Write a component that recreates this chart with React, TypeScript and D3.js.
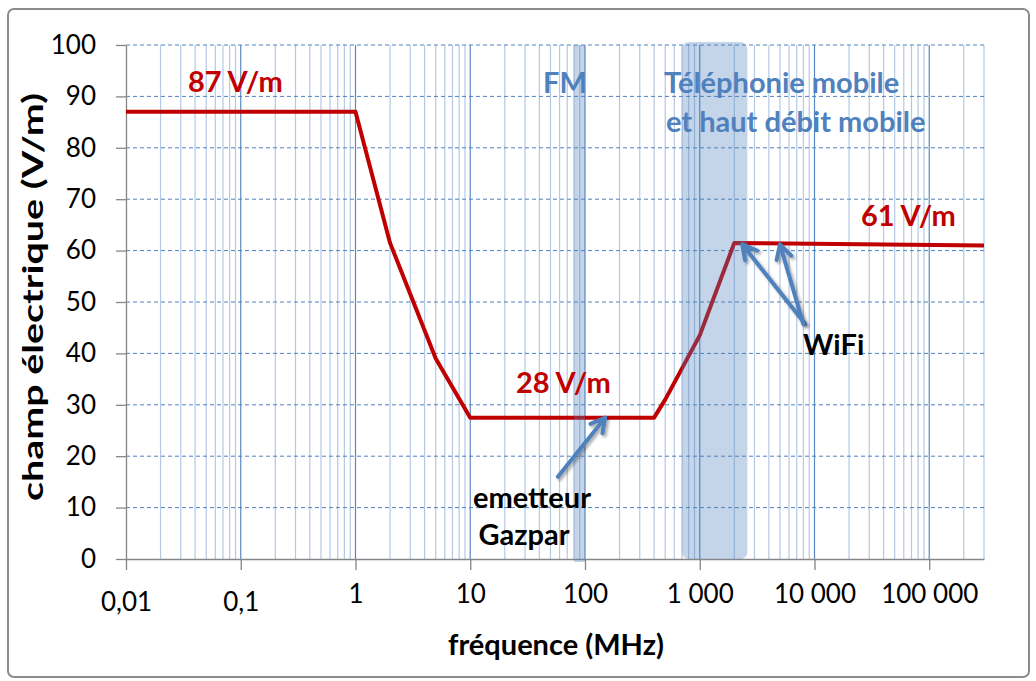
import React, { useRef, useEffect } from "react";
import * as d3 from "d3";

// ICNIRP-style limit curve (MHz -> V/m)
const frequencies = [0.01, 1, 2, 5, 10, 400, 500, 1000, 2000, 300000];
const fieldValues = [87, 87, 61.5, 39, 27.5, 27.5, 31, 43.5, 61.5, 61];

const xTickValues = [0.01, 0.1, 1, 10, 100, 1000, 10000, 100000];
const xTickLabels = ["0,01", "0,1", "1", "10", "100", "1 000", "10 000", "100 000"];
const yTickValues = [0, 10, 20, 30, 40, 50, 60, 70, 80, 90, 100];

// shaded bands (MHz)
const fmBand = [80, 100];
const mobileBand = [700, 2600];

// arrows: [tail freq, tail field, tip freq, tip field]
const gazparArrow = [58, 16, 150, 27.5];
const wifiArrows = [
  [8300, 45.7, 2350, 61.2],
  [8000, 45.7, 5000, 61.2],
];

const FONT = 'Lato, "Open Sans", sans-serif';
const RED = "#c00000";
const BLUE = "#4f81bd";

const App: React.FC = () => {
  const svgRef = useRef<SVGSVGElement>(null);
  const width = 1036;
  const height = 681;

  useEffect(() => {
    if (!svgRef.current) return;
    const svg = d3.select(svgRef.current);
    svg.selectAll("*").remove();

    const margin = { top: 45, right: 52, bottom: 122, left: 126 };

    const x = d3
      .scaleLog()
      .domain([0.01, 300000])
      .range([margin.left, width - margin.right]);
    const y = d3
      .scaleLinear()
      .domain([0, 100])
      .range([height - margin.bottom, margin.top]);

    const defs = svg.append("defs");
    const shadow = defs.append("filter").attr("id", "shadow").attr("x", "-20%").attr("y", "-20%").attr("width", "140%").attr("height", "140%");
    shadow
      .append("feDropShadow")
      .attr("dx", 2)
      .attr("dy", 2)
      .attr("stdDeviation", 1.5)
      .attr("flood-color", "#000")
      .attr("flood-opacity", 0.35);

    // chart area
    svg
      .append("rect")
      .attr("x", 8)
      .attr("y", 9)
      .attr("width", 1021)
      .attr("height", 668)
      .attr("rx", 6)
      .attr("fill", "#fff")
      .attr("stroke", "#8c8c8c")
      .attr("stroke-width", 2);

    // minor vertical gridlines
    const minor: number[] = [];
    for (let e = -2; e <= 5; e++) {
      for (let k = 2; k <= 9; k++) {
        const v = k * Math.pow(10, e);
        if (v <= 300000) minor.push(v);
      }
    }
    svg
      .append("g")
      .selectAll("line")
      .data(minor)
      .enter()
      .append("line")
      .attr("x1", (d) => x(d))
      .attr("x2", (d) => x(d))
      .attr("y1", y(100))
      .attr("y2", y(0))
      .attr("stroke", "#b4c9e4")
      .attr("stroke-width", 1.2);

    // major vertical gridlines
    svg
      .append("g")
      .selectAll("line")
      .data(xTickValues.slice(1))
      .enter()
      .append("line")
      .attr("x1", (d) => x(d))
      .attr("x2", (d) => x(d))
      .attr("y1", y(100))
      .attr("y2", y(0))
      .attr("stroke", "#5a88c4")
      .attr("stroke-width", 1.2);

    // horizontal dashed gridlines
    svg
      .append("g")
      .selectAll("line")
      .data(yTickValues.slice(1))
      .enter()
      .append("line")
      .attr("x1", x(0.01))
      .attr("x2", x(300000))
      .attr("y1", (d) => y(d))
      .attr("y2", (d) => y(d))
      .attr("stroke", BLUE)
      .attr("stroke-width", 1)
      .attr("stroke-dasharray", "4,3");

    // axes
    const yAxis = d3.axisLeft(y).tickValues(yTickValues).tickSize(10).tickSizeOuter(0).tickPadding(20);
    const gy = svg.append("g").attr("transform", `translate(${margin.left},0)`).call(yAxis);
    gy.selectAll("path, line").attr("stroke", "#868686").attr("stroke-width", 1.3);
    gy.selectAll("text")
      .attr("font-family", FONT)
      .attr("font-size", 26)
      .attr("fill", "#000");

    const xAxis = d3
      .axisBottom(x)
      .tickValues(xTickValues)
      .tickFormat((d, i) => xTickLabels[i])
      .tickSize(11)
      .tickSizeOuter(0)
      .tickPadding(15);
    const gx = svg.append("g").attr("transform", `translate(0,${height - margin.bottom})`).call(xAxis);
    gx.selectAll("path, line").attr("stroke", "#868686").attr("stroke-width", 1.3);
    gx.selectAll("text")
      .attr("font-family", FONT)
      .attr("font-size", 26)
      .attr("fill", "#000")
      .attr("dy", (d, i) => (xTickLabels[i].includes(",") ? "1.0em" : "0.71em"));

    // limit curve
    const pts = frequencies.map((f, i) => [f, fieldValues[i]] as [number, number]);
    const line = d3
      .line<[number, number]>()
      .x((d) => x(d[0]))
      .y((d) => y(d[1]));
    svg
      .append("path")
      .datum(pts)
      .attr("d", line)
      .attr("fill", "none")
      .attr("stroke", RED)
      .attr("stroke-width", 4)
      .attr("stroke-linejoin", "round");

    // bands
    svg
      .append("rect")
      .attr("x", x(fmBand[0]))
      .attr("width", x(fmBand[1]) - x(fmBand[0]))
      .attr("y", y(100))
      .attr("height", y(0) - y(100) + 3)
      .attr("fill", BLUE)
      .attr("fill-opacity", 0.33);
    svg
      .append("rect")
      .attr("x", x(mobileBand[0]))
      .attr("width", x(mobileBand[1]) - x(mobileBand[0]))
      .attr("y", y(100) - 3)
      .attr("height", y(0) - y(100) + 3)
      .attr("rx", 7)
      .attr("fill", BLUE)
      .attr("fill-opacity", 0.33);

    // labels
    const label = (tx: number, ty: number, text: string, color: string, anchor = "start") =>
      svg
        .append("text")
        .attr("x", tx)
        .attr("y", ty)
        .attr("font-family", FONT)
        .attr("font-weight", "bold")
        .attr("font-size", 29)
        .attr("fill", color)
        .attr("text-anchor", anchor)
        .text(text);

    label(188, 92, "87 V/m", RED);
    label(516, 393, "28 V/m", RED);
    label(861, 226, "61 V/m", RED);
    label(543, 93, "FM", BLUE);
    label(664, 93, "Téléphonie mobile", BLUE);
    label(666, 132, "et haut débit mobile", BLUE);
    label(803, 355, "WiFi", "#000");
    label(532, 508, "emetteur", "#000", "middle");
    label(524, 545, "Gazpar", "#000", "middle");

    // axis titles
    svg
      .append("text")
      .attr("transform", `translate(43,297) rotate(-90)`)
      .attr("text-anchor", "middle")
      .attr("font-family", FONT)
      .attr("font-weight", "bold")
      .attr("font-size", 28)
      .attr("textLength", 408)
      .attr("lengthAdjust", "spacingAndGlyphs")
      .text("champ électrique (V/m)");
    svg
      .append("text")
      .attr("x", 556)
      .attr("y", 655)
      .attr("text-anchor", "middle")
      .attr("font-family", FONT)
      .attr("font-weight", "bold")
      .attr("font-size", 29)
      .text("fréquence (MHz)");

    // arrows
    const arrow = (a: number[]) => {
      const x1 = x(a[0]);
      const y1 = y(a[1]);
      const x2 = x(a[2]);
      const y2 = y(a[3]);
      const ang = Math.atan2(y2 - y1, x2 - x1);
      const len = 16;
      const spread = 0.5;
      const p = d3.path();
      p.moveTo(x1, y1);
      p.lineTo(x2, y2);
      p.moveTo(x2 - len * Math.cos(ang - spread), y2 - len * Math.sin(ang - spread));
      p.lineTo(x2, y2);
      p.lineTo(x2 - len * Math.cos(ang + spread), y2 - len * Math.sin(ang + spread));
      svg
        .append("path")
        .attr("d", p.toString())
        .attr("fill", "none")
        .attr("stroke", BLUE)
        .attr("stroke-width", 4)
        .attr("stroke-linecap", "round")
        .attr("stroke-linejoin", "round")
        .attr("filter", "url(#shadow)");
    };
    arrow(gazparArrow);
    wifiArrows.forEach(arrow);
  }, []);

  return (
    <svg
      ref={svgRef}
      width={width}
      height={height}
      style={{ position: "absolute", left: 0, top: 0, display: "block" }}
    ></svg>
  );
};

export default App;
